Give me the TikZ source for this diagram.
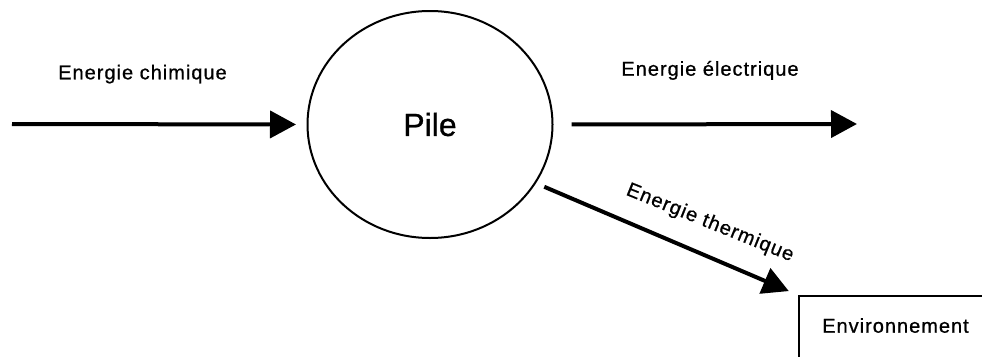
\documentclass[tikz,border=0pt]{standalone}
\usepackage{fontspec}
\setmainfont{Liberation Sans}
\usetikzlibrary{arrows.meta,shapes.geometric}
\begin{document}
\begin{tikzpicture}[x=1pt,y=-1pt,
  lbl/.style={font=\fontsize{20}{22}\selectfont\addfontfeatures{LetterSpace=5,FakeBold=0.8}, inner sep=0pt, anchor=base},
  flow/.style={line width=4pt, -{Triangle[length=26pt,width=27pt]}},
  ]
\clip (0,0) rectangle (982,356);
\node[draw, ellipse, line width=2pt, minimum width=245pt, minimum height=227pt, inner sep=0pt,
      font=\fontsize{32}{36}\selectfont\addfontfeatures{FakeBold=0.8}] (pile) at (430,124.5) {Pile};
\node[draw, line width=2pt, anchor=north west, minimum width=195pt, minimum height=75pt, inner sep=0pt] (env) at (798,295) {};
\node[lbl] (envtxt) at (895.5,332.7) {Environnement};
\coordinate (cin) at (12,124);
\coordinate (cout) at (857,124);
\draw[flow, shorten >=10.5pt] (cin) -- (pile.west);
\draw[flow, shorten <=18pt] (pile.east) -- (cout);
\draw[flow, shorten <=9pt, shorten >=10pt] (pile.-29) -- (env.north west);
\node[lbl] (chim) at (142.5,79.3) {Energie chimique};
\node[lbl] (elec) at (710,75.7) {Energie électrique};
\node[lbl, rotate=-22] (therm) at (708,228) {Energie thermique};
\end{tikzpicture}
\end{document}
